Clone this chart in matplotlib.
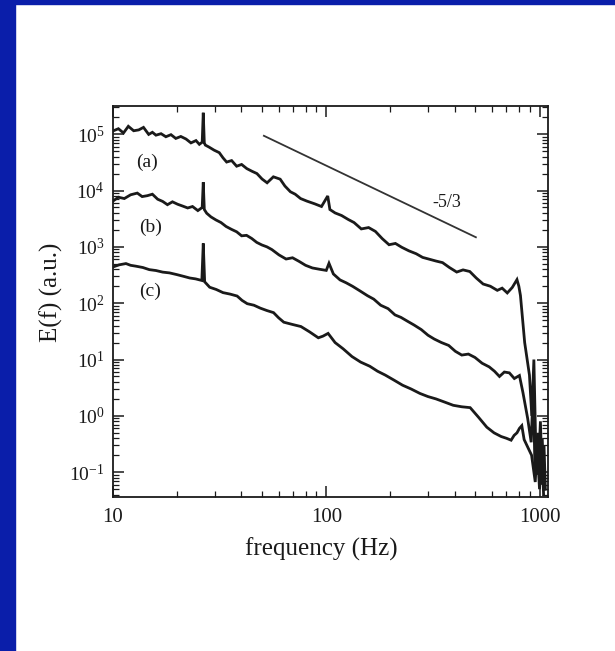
import matplotlib
matplotlib.use("Agg")
import matplotlib.pyplot as plt
from matplotlib.patches import Rectangle
from matplotlib.ticker import LogLocator, FixedLocator, FixedFormatter, NullFormatter

plt.rcParams['font.family'] = ['Liberation Serif', 'DejaVu Serif']
plt.rcParams['mathtext.fontset'] = 'custom'
plt.rcParams['mathtext.rm'] = 'Liberation Serif'
plt.rcParams['mathtext.it'] = 'Liberation Serif:italic'
plt.rcParams['mathtext.bf'] = 'Liberation Serif:bold'

# ---------------- data ----------------
freq_a = [10.0, 10.6, 11.2, 11.8, 12.5, 13.2, 13.9, 14.7, 15.3, 15.9, 16.8, 17.7, 18.7, 19.7,
          20.8, 22.0, 23.2, 24.5, 25.4, 26.2, 26.5, 26.8, 27.1, 28.2, 29.8, 31.5, 32.8, 34.1,
          36.0, 38.0, 40.1, 42.4, 44.8, 47.3, 50.0, 52.8, 56.5, 60.8, 64.0, 67.9, 71.5, 75.8,
          81.0, 88.3, 95.0, 101.6, 104, 110, 118, 126.8, 135, 146, 158, 170, 183, 197, 211,
          226, 244, 264, 283, 304, 327, 351, 378, 409, 438, 471, 505, 544, 588, 634, 668, 706,
          745, 784, 800, 814, 852, 897, 920, 941, 960, 985, 1010, 1030, 1050, 1065]
E_a = [1.14e5, 1.25e5, 1.05e5, 1.38e5, 1.15e5, 1.19e5, 1.32e5, 9.9e4, 1.08e5, 9.6e4, 1.02e5,
       9.0e4, 9.8e4, 8.4e4, 9.1e4, 8.2e4, 7.0e4, 7.7e4, 6.6e4, 7.2e4, 2.4e5, 7.0e4, 6.4e4,
       5.9e4, 5.2e4, 4.7e4, 3.8e4, 3.2e4, 3.4e4, 2.7e4, 2.9e4, 2.45e4, 2.2e4, 2.0e4, 1.6e4,
       1.37e4, 1.75e4, 1.59e4, 1.2e4, 9.5e3, 8.6e3, 7.2e3, 6.5e3, 5.8e3, 5.2e3, 8.0e3, 4.6e3,
       4.0e3, 3.6e3, 3.06e3, 2.7e3, 2.08e3, 2.2e3, 1.88e3, 1.4e3, 1.09e3, 1.15e3, 982, 850,
       755, 650, 604, 560, 525, 430, 357, 390, 365, 280, 219, 200, 169, 185, 152, 190, 262,
       200, 137, 20, 5.3, 1.0, 10.0, 0.3, 0.09, 0.8, 0.06, 0.3, 0.05]

freq_b = [10.0, 10.6, 11.3, 12.1, 13.0, 13.7, 14.5, 15.3, 16.2, 17.1, 18.0, 19.0, 20.1, 21.2,
          22.4, 23.6, 25.0, 26.2, 26.5, 26.8, 27.5, 28.8, 30.4, 32.1, 33.9, 35.9, 38.0, 40.1,
          42.3, 44.7, 47.2, 49.9, 52.7, 55.6, 60.0, 64.8, 69.5, 74.7, 80.0, 86.1, 93.0, 100,
          103, 108, 116, 124, 133, 144, 156, 167, 180, 195, 210, 224, 240, 258, 279, 300, 321,
          347, 375, 403, 432, 464, 498, 538, 581, 615, 649, 684, 722, 762, 805, 836, 880, 914,
          935, 953, 980, 1005, 1030, 1050]
E_b = [6.5e3, 7.6e3, 7.2e3, 8.4e3, 9.0e3, 7.8e3, 8.1e3, 8.6e3, 7.0e3, 6.4e3, 5.6e3, 6.3e3,
       5.7e3, 5.3e3, 4.9e3, 5.2e3, 4.4e3, 5.0e3, 1.4e4, 4.6e3, 3.95e3, 3.4e3, 3.0e3, 2.7e3,
       2.3e3, 2.05e3, 1.85e3, 1.57e3, 1.6e3, 1.41e3, 1.2e3, 1.08e3, 1.0e3, 894, 720, 608, 640,
       550, 470, 422, 400, 382, 511, 330, 259, 230, 199, 165, 136, 118, 92, 80, 62, 56, 48, 41,
       34, 27, 23.1, 20, 17.8, 14, 12.0, 12.5, 10.9, 8.6, 7.4, 6.2, 5.0, 6.0, 5.8, 4.6, 5.2,
       2.6, 0.9, 0.34, 3.5, 0.09, 0.5, 0.06, 0.4, 0.05]

freq_c = [10.0, 10.7, 11.5, 12.1, 12.8, 13.8, 14.8, 15.9, 17.1, 18.4, 19.9, 21.4, 22.9, 24.4,
          26.1, 26.5, 26.9, 28.4, 30.5, 32.8, 35.4, 38.2, 40.3, 42.6, 45.8, 49.1, 52.7, 56.6,
          59.8, 63.2, 69.3, 76.1, 83.5, 91.8, 96.5, 102, 110, 120, 132, 145, 160, 174, 189, 208,
          228, 250, 275, 300, 327, 360, 394, 432, 473, 517, 566, 612, 661, 700, 736, 760, 784,
          805, 826, 847, 880, 918, 955, 975, 1000, 1025, 1045]
E_c = [440, 480, 505, 470, 454, 430, 394, 380, 356, 345, 322, 300, 280, 270, 253, 1.15e3, 240,
       192, 175, 154, 145, 134, 112, 98, 92, 81.6, 74, 68, 55, 46, 42, 38.5, 31, 24.3, 26, 29.1,
       20, 15.5, 11.3, 9.0, 7.6, 6.2, 5.3, 4.3, 3.5, 3.0, 2.5, 2.2, 2.0, 1.75, 1.54, 1.45, 1.40,
       0.95, 0.63, 0.5, 0.43, 0.40, 0.37, 0.45, 0.50, 0.6, 0.67, 0.38, 0.28, 0.20, 0.067, 0.3,
       0.05, 0.25, 0.04]

slope_f = [51.0, 503.0]
slope_E = [9.36e4, 1.48e3]
slope_text = "-5/3"
slope_text_pos = (368, 6.2e3)

curve_labels = ["(a)", "(b)", "(c)"]
curve_label_f = [14.5, 15.0, 14.9]
curve_label_E = [3.2e4, 2.2e3, 165]

x_ticks = [10, 100, 1000]
x_ticklabels = ["10", "100", "1000"]
y_ticks = [1e-1, 1e0, 1e1, 1e2, 1e3, 1e4, 1e5]
y_ticklabels = [r"$10^{-1}$", r"$10^{0}$", r"$10^{1}$", r"$10^{2}$", r"$10^{3}$", r"$10^{4}$", r"$10^{5}$"]
xlabel = "frequency (Hz)"
ylabel = "E(f) (a.u.)"

# ---------------- figure ----------------
W, H = 615, 651
fig = plt.figure(figsize=(W / 100, H / 100), dpi=100, facecolor="white")
blue = "#0a1eaa"
fig.patches.append(Rectangle((0, 0), 15 / W, 1, transform=fig.transFigure, color=blue, zorder=0))
fig.patches.append(Rectangle((0, 1 - 4 / H), 1, 4 / H, transform=fig.transFigure, color=blue, zorder=0))

L, R, T, B = 113, 548, 106, 497
ax = fig.add_axes([L / W, 1 - B / H, (R - L) / W, (B - T) / H])
ax.set_xscale("log")
ax.set_yscale("log")
ax.set_xlim(10, 1096)
ax.set_ylim(10 ** -1.44, 10 ** 5.5)

ink = "#1a1a1a"
for fr, ee in [(freq_a, E_a), (freq_b, E_b), (freq_c, E_c)]:
    ax.plot(fr, ee, color=ink, lw=2.0, solid_joinstyle="miter")

ax.plot(slope_f, slope_E, color="#333333", lw=1.3)
ax.text(slope_text_pos[0], slope_text_pos[1], slope_text, fontsize=13, color=ink,
        ha="center", va="center")
for lab, lf, le in zip(curve_labels, curve_label_f, curve_label_E):
    ax.text(lf, le, lab, fontsize=14, color=ink, ha="center", va="center")

ax.xaxis.set_major_locator(FixedLocator(x_ticks))
ax.xaxis.set_major_formatter(FixedFormatter(x_ticklabels))
ax.xaxis.set_minor_locator(LogLocator(base=10, subs=range(2, 10)))
ax.xaxis.set_minor_formatter(NullFormatter())
ax.yaxis.set_major_locator(FixedLocator(y_ticks))
ax.yaxis.set_major_formatter(FixedFormatter(y_ticklabels))
ax.yaxis.set_minor_locator(LogLocator(base=10, subs=range(2, 10), numticks=20))
ax.yaxis.set_minor_formatter(NullFormatter())

ax.tick_params(which="both", direction="in", top=True, right=True, colors=ink)
ax.tick_params(which="major", length=8, width=1.1)
ax.tick_params(which="minor", length=4, width=0.9)
ax.tick_params(axis="x", which="major", labelsize=15, pad=8)
ax.tick_params(axis="y", which="major", labelsize=14, pad=6)
for sp in ax.spines.values():
    sp.set_linewidth(1.3)
    sp.set_color(ink)

ax.set_xlabel(xlabel, fontsize=18, color=ink)
ax.set_ylabel(ylabel, fontsize=18, color=ink)
ax.xaxis.set_label_coords(0.478, -0.105)
ax.yaxis.set_label_coords(-0.115, 0.524)

fig.savefig("out.png", dpi=100, facecolor="white")
